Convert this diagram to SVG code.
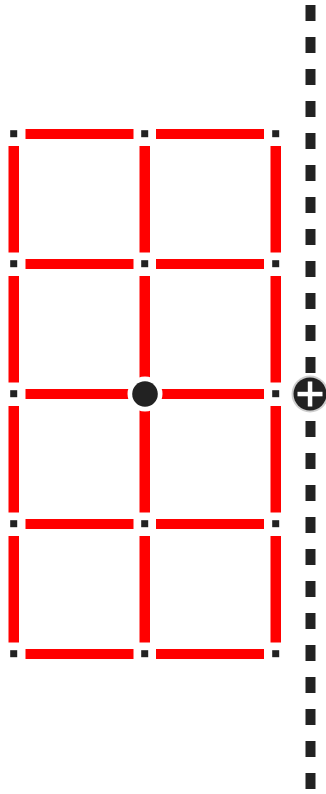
<svg xmlns="http://www.w3.org/2000/svg" width="326" height="794" viewBox="0 0 326 794">
<style>
.h{fill:#ff0000;}
.v{fill:#ff0000;}
.d{fill:#222222;}
.dash{stroke:#222222;stroke-width:10;stroke-dasharray:16 16;fill:none;}
</style>
<rect width="326" height="794" fill="#ffffff"/>
<g id="connectors">
<line class="dash" x1="310.5" y1="5" x2="310.5" y2="794"/>
<rect class="h" x="25.5" y="129" width="108" height="10"/>
<rect class="h" x="156" y="129" width="108" height="10"/>
<rect class="h" x="25.5" y="259" width="108" height="10"/>
<rect class="h" x="156" y="259" width="108" height="10"/>
<rect class="h" x="25.5" y="389" width="108" height="10"/>
<rect class="h" x="156" y="389" width="108" height="10"/>
<rect class="h" x="25.5" y="519" width="108" height="10"/>
<rect class="h" x="156" y="519" width="108" height="10"/>
<rect class="h" x="25.5" y="649" width="108" height="10"/>
<rect class="h" x="156" y="649" width="108" height="10"/>
<rect class="v" x="8.5" y="146" width="10.5" height="106.5"/>
<rect class="v" x="139.5" y="146" width="10.5" height="106.5"/>
<rect class="v" x="270.5" y="146" width="10.5" height="106.5"/>
<rect class="v" x="8.5" y="276" width="10.5" height="106.5"/>
<rect class="v" x="139.5" y="276" width="10.5" height="106.5"/>
<rect class="v" x="270.5" y="276" width="10.5" height="106.5"/>
<rect class="v" x="8.5" y="406" width="10.5" height="106.5"/>
<rect class="v" x="139.5" y="406" width="10.5" height="106.5"/>
<rect class="v" x="270.5" y="406" width="10.5" height="106.5"/>
<rect class="v" x="8.5" y="536" width="10.5" height="106.5"/>
<rect class="v" x="139.5" y="536" width="10.5" height="106.5"/>
<rect class="v" x="270.5" y="536" width="10.5" height="106.5"/>
</g>
<g id="vertices">
<rect class="d" x="10.2" y="130.2" width="7" height="7"/>
<rect class="d" x="141.2" y="130.2" width="7" height="7"/>
<rect class="d" x="272.2" y="130.2" width="7" height="7"/>
<rect class="d" x="10.2" y="260.2" width="7" height="7"/>
<rect class="d" x="141.2" y="260.2" width="7" height="7"/>
<rect class="d" x="272.2" y="260.2" width="7" height="7"/>
<rect class="d" x="10.2" y="390.2" width="7" height="7"/>
<rect class="d" x="272.2" y="390.2" width="7" height="7"/>
<rect class="d" x="10.2" y="520.2" width="7" height="7"/>
<rect class="d" x="141.2" y="520.2" width="7" height="7"/>
<rect class="d" x="272.2" y="520.2" width="7" height="7"/>
<rect class="d" x="10.2" y="650.2" width="7" height="7"/>
<rect class="d" x="141.2" y="650.2" width="7" height="7"/>
<rect class="d" x="272.2" y="650.2" width="7" height="7"/>
</g>
<g id="center-node">
<circle cx="145" cy="394" r="17.5" fill="#ffffff"/>
<circle cx="145" cy="394" r="12.8" fill="#222222"/>
</g>
<g id="add-button">
<circle cx="310" cy="394" r="18.5" fill="#cfcfcf"/>
<circle cx="310" cy="394" r="16.5" fill="#222222"/>
<rect x="297.5" y="391.8" width="25" height="4.5" fill="#ffffff"/>
<rect x="307.8" y="381.5" width="4.5" height="25" fill="#ffffff"/>
</g>
</svg>
